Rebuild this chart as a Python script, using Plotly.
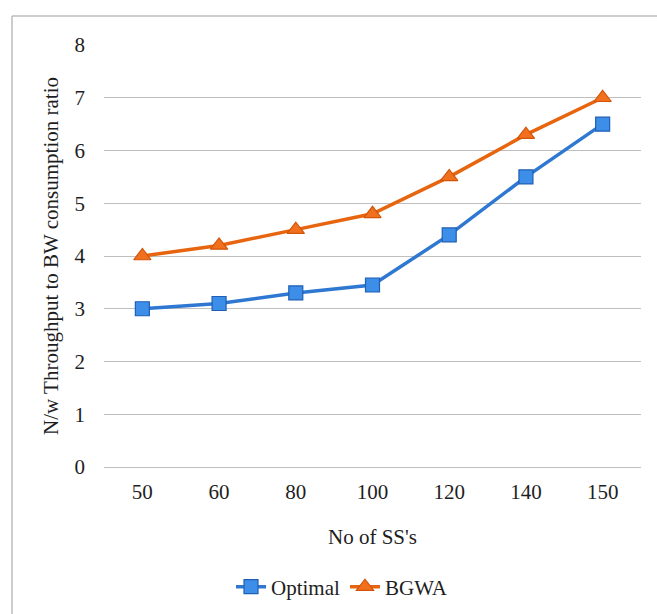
import plotly.graph_objects as go

categories = ["50", "60", "80", "100", "120", "140", "150"]
optimal = [3.0, 3.1, 3.3, 3.45, 4.4, 5.5, 6.5]
bgwa = [4.0, 4.2, 4.5, 4.8, 5.5, 6.3, 7.0]
y_ticks = [0, 1, 2, 3, 4, 5, 6, 7, 8]

FONT = "Liberation Serif"
TXT = "#1E1E1E"

fig = go.Figure()
fig.add_trace(go.Scatter(
    x=categories, y=optimal, name="Optimal", mode="lines+markers",
    line=dict(color="#2E78D2", width=3.5),
    marker=dict(symbol="square", size=14, color="#3D8EE8",
                line=dict(color="#1F5FB4", width=1.2)),
))
fig.add_trace(go.Scatter(
    x=categories, y=bgwa, name="BGWA", mode="lines+markers",
    line=dict(color="#E8650F", width=3.5),
    marker=dict(symbol="triangle-up", size=15, color="#F0701E",
                line=dict(color="#D2550A", width=1.2)),
))

L, R, T, B = 104, 16, 45, 147
W, H = 657, 614
pw, ph = W - L - R, H - T - B

def px_x(x):
    return (x - L) / pw

def px_y(y):
    return (H - B - y) / ph

fig.update_layout(
    width=W, height=H,
    margin=dict(l=L, r=R, t=T, b=B, autoexpand=False),
    paper_bgcolor="white", plot_bgcolor="white",
    font=dict(family=FONT, size=21, color=TXT),
    showlegend=True,
    legend=dict(orientation="h", x=px_x(342), y=px_y(587),
                xanchor="center", yanchor="middle",
                font=dict(family=FONT, size=21, color=TXT),
                bgcolor="rgba(0,0,0,0)"),
    xaxis=dict(
        type="category", range=[-0.5, 6.5], automargin=False,
        showgrid=False, showline=False, zeroline=False,
        ticks="", ticklabelstandoff=10,
        tickfont=dict(family=FONT, size=21, color=TXT),
        title=dict(text="No of SS's", font=dict(family=FONT, size=21, color=TXT),
                   standoff=26),
    ),
    yaxis=dict(
        range=[0, 8], tickvals=y_ticks, automargin=False,
        showgrid=True, gridcolor="#BFBFBF", gridwidth=1.3,
        zeroline=True, zerolinecolor="#BFBFBF", zerolinewidth=1.3,
        showline=False, ticks="",
        ticklabelstandoff=18,
        tickfont=dict(family=FONT, size=21, color=TXT),
        title=dict(text="N/w Throughput to BW consumption ratio",
                   font=dict(family=FONT, size=21, color=TXT),
                   standoff=10),
    ),
    shapes=[
        dict(type="line", xref="paper", yref="paper",
             x0=px_x(12), x1=px_x(12), y0=px_y(16), y1=px_y(700),
             line=dict(color="#BDBDBD", width=1.5)),
        dict(type="line", xref="paper", yref="paper",
             x0=px_x(12), x1=px_x(700), y0=px_y(16), y1=px_y(16),
             line=dict(color="#BDBDBD", width=1.5)),
    ],
)

fig.write_html("out.html")
